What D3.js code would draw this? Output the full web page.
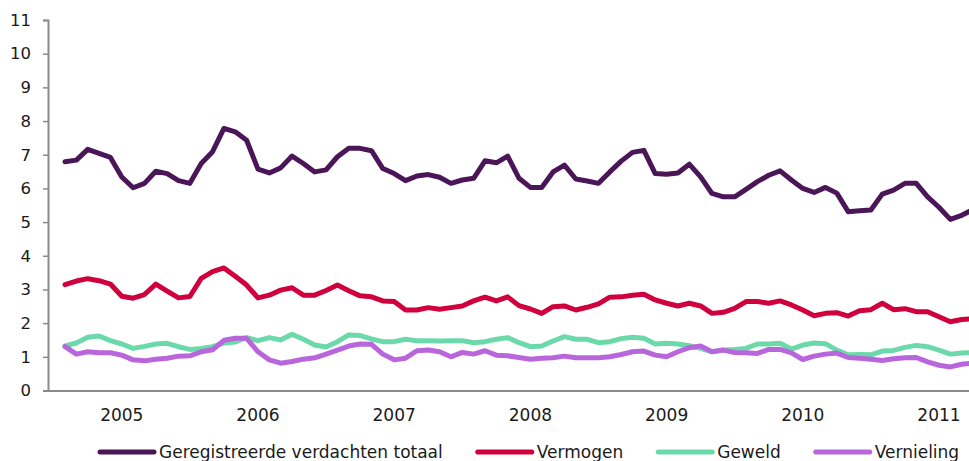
<!DOCTYPE html>
<html>
<head>
<meta charset="utf-8">
<script src="https://cdn.jsdelivr.net/npm/d3@7"></script>
<style>
  html, body { margin: 0; padding: 0; background: #fff; overflow: hidden; }
  svg { display: block; font-family: "DejaVu Sans", Verdana, sans-serif; }
</style>
</head>
<body>
<svg id="chart" width="969" height="461"></svg>
<script>
// Categories: months Jan 2005 .. Dec 2011 (year label shown at July)
const years = [2005, 2006, 2007, 2008, 2009, 2010, 2011];
const yTicks = [0, 1, 2, 3, 4, 5, 6, 7, 8, 9, 10, 11];
const seriesNames = ["Geregistreerde verdachten totaal", "Vermogen", "Geweld", "Vernieling"];
const seriesColors = ["#4B1657", "#CF003D", "#6CD9AB", "#B966DD"];

// monthly values from Feb 2005 onward
const totaal = [6.79,6.84,7.16,7.04,6.92,6.34,6.02,6.15,6.51,6.44,6.23,6.15,6.74,7.09,7.78,7.68,7.43,6.57,6.46,6.61,
  6.96,6.74,6.49,6.55,6.94,7.19,7.19,7.12,6.59,6.44,6.23,6.37,6.41,6.33,6.15,6.25,6.30,6.82,6.76,6.96,
  6.30,6.03,6.03,6.49,6.69,6.28,6.22,6.15,6.49,6.81,7.07,7.13,6.44,6.42,6.46,6.72,6.34,5.85,5.75,5.75,
  5.97,6.20,6.39,6.52,6.25,6.00,5.88,6.03,5.86,5.31,5.34,5.36,5.83,5.95,6.15,6.15,5.75,5.44,5.08,5.20,5.37];
const vermogen = [3.14,3.25,3.32,3.26,3.16,2.80,2.74,2.85,3.16,2.95,2.75,2.79,3.33,3.53,3.64,3.39,3.13,2.75,2.83,2.98,
  3.05,2.83,2.83,2.97,3.13,2.96,2.81,2.78,2.66,2.64,2.39,2.39,2.46,2.41,2.46,2.51,2.66,2.77,2.66,2.78,
  2.52,2.42,2.29,2.49,2.51,2.39,2.47,2.57,2.77,2.78,2.83,2.86,2.69,2.59,2.51,2.59,2.51,2.29,2.32,2.44,
  2.64,2.64,2.59,2.66,2.54,2.39,2.22,2.29,2.31,2.21,2.37,2.40,2.59,2.40,2.43,2.34,2.34,2.19,2.04,2.11,2.13];
const geweld = [1.32,1.41,1.58,1.62,1.48,1.38,1.25,1.31,1.38,1.40,1.30,1.22,1.25,1.30,1.41,1.44,1.57,1.48,1.57,1.50,
  1.67,1.52,1.35,1.29,1.45,1.65,1.63,1.53,1.45,1.45,1.52,1.48,1.48,1.47,1.48,1.48,1.42,1.45,1.52,1.57,
  1.42,1.30,1.32,1.47,1.60,1.52,1.52,1.42,1.45,1.54,1.58,1.55,1.38,1.40,1.38,1.33,1.25,1.15,1.20,1.22,
  1.25,1.38,1.38,1.40,1.23,1.35,1.41,1.39,1.20,1.06,1.07,1.06,1.17,1.19,1.28,1.34,1.30,1.20,1.08,1.11,1.13];
const vernieling = [1.30,1.08,1.15,1.12,1.12,1.05,0.91,0.88,0.93,0.96,1.02,1.03,1.15,1.21,1.49,1.55,1.55,1.15,0.91,0.81,
  0.86,0.93,0.97,1.08,1.20,1.32,1.38,1.37,1.08,0.91,0.96,1.18,1.20,1.15,1.00,1.13,1.08,1.18,1.05,1.03,
  0.98,0.93,0.96,0.97,1.02,0.97,0.97,0.97,1.00,1.07,1.15,1.17,1.05,1.00,1.15,1.27,1.32,1.15,1.20,1.13,
  1.12,1.10,1.22,1.22,1.12,0.92,1.02,1.08,1.11,0.98,0.96,0.93,0.89,0.94,0.97,0.98,0.85,0.75,0.70,0.78,0.81];

const allSeries = [totaal, vermogen, geweld, vernieling];

// build month categories
const months = [];
years.forEach(yr => { for (let m = 1; m <= 12; m++) months.push(yr + "-" + String(m).padStart(2, "0")); });
const firstDataIndex = 1; // data starts in Feb 2005

const svg = d3.select("#chart");
const plotLeft = 48, plotTop = 20, plotBottom = 390.5;
const bandW = 11.35;
const x = d3.scaleBand().domain(months).range([plotLeft, plotLeft + months.length * bandW]).paddingInner(0).paddingOuter(0);
const y = d3.scaleLinear().domain([0, 11]).range([plotBottom, plotTop]);
const cx = i => x(months[i + firstDataIndex]) + x.bandwidth() / 2;

const axisColor = "#8a8a8a";
const fontFam = '"DejaVu Sans", Verdana, sans-serif';

// y axis
const yAxis = svg.append("g").attr("transform", `translate(${plotLeft},0)`)
  .call(d3.axisLeft(y).tickValues(yTicks).tickSize(5).tickPadding(12).tickFormat(d3.format("d")));
yAxis.select(".domain").attr("stroke", axisColor).attr("stroke-width", 2);
yAxis.selectAll(".tick line").attr("stroke", axisColor).attr("stroke-width", 1.5);
yAxis.selectAll(".tick text").attr("fill", "#1a1a1a").style("font-size", "16.5px").style("font-family", fontFam);

// x axis (labels only, at July of each year)
const labelMonths = years.map(yr => yr + "-07");
const xAxis = svg.append("g").attr("transform", `translate(0,${plotBottom})`)
  .call(d3.axisBottom(x).tickValues(labelMonths).tickSize(0).tickPadding(18)
    .tickFormat(d => d.slice(0, 4)));
xAxis.select(".domain").attr("stroke", axisColor).attr("stroke-width", 2);
xAxis.selectAll(".tick text").attr("fill", "#1a1a1a").style("font-size", "17px").style("font-family", fontFam);

// lines
const line = d3.line().x((d, i) => cx(i)).y(d => y(d)).curve(d3.curveLinear);
allSeries.forEach((s, k) => {
  svg.append("path").datum(s)
    .attr("fill", "none")
    .attr("stroke", seriesColors[k])
    .attr("stroke-width", 5)
    .attr("stroke-linejoin", "round")
    .attr("stroke-linecap", "round")
    .attr("d", line);
});

// legend
const legend = svg.append("g").attr("transform", "translate(100,452)");
let lx = 0;
seriesNames.forEach((name, k) => {
  const g = legend.append("g").attr("transform", `translate(${lx},0)`);
  g.append("line").attr("x1", 0).attr("x2", 54).attr("y1", 0).attr("y2", 0)
    .attr("stroke", seriesColors[k]).attr("stroke-width", 5).attr("stroke-linecap", "round");
  const t = g.append("text").attr("x", 59).attr("y", 6)
    .attr("fill", "#1a1a1a").style("font-size", "17px").style("font-family", fontFam).text(name);
  lx += 59 + t.node().getComputedTextLength() + 35;
});
</script>
</body>
</html>
